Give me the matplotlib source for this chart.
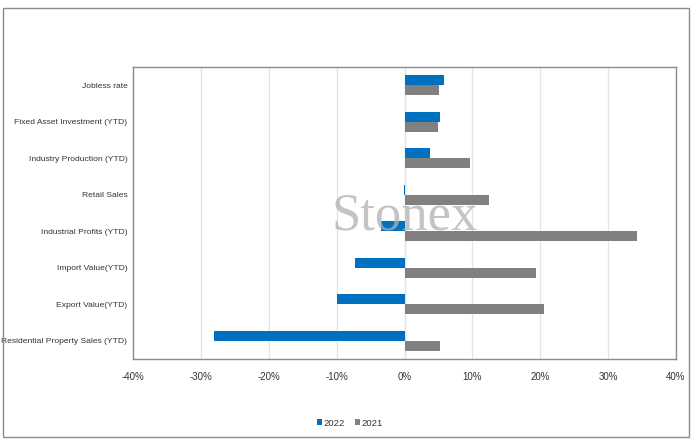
import matplotlib
matplotlib.use("Agg")
import matplotlib.pyplot as plt
from matplotlib.patches import Rectangle
import numpy as np

categories = ["Jobless rate", "Fixed Asset Investment (YTD)", "Industry Production (YTD)",
              "Retail Sales", "Industrial Profits (YTD)", "Import Value(YTD)",
              "Export Value(YTD)", "Residential Property Sales (YTD)"]
v2022 = [5.8, 5.3, 3.8, -0.1, -3.5, -7.3, -10.0, -28.1]
v2021 = [5.1, 4.9, 9.6, 12.5, 34.3, 19.4, 20.6, 5.3]
xticks = [-40, -30, -20, -10, 0, 10, 20, 30, 40]
xticklabels = ["-40%", "-30%", "-20%", "-10%", "0%", "10%", "20%", "30%", "40%"]

plt.rcParams['font.family'] = ['Liberation Sans', 'DejaVu Sans']

fig = plt.figure(figsize=(7, 4.45), dpi=100)
ax = fig.add_axes([133/700, 1-359/445, (676-133)/700, (359-67)/445])

y = np.arange(len(categories))
h = 0.28
ax.barh(y - h/2, v2022, height=h, color="#0070C0", label="2022", zorder=3)
ax.barh(y + h/2, v2021, height=h, color="#808080", label="2021", zorder=3)

ax.set_xlim(-40, 40)
ax.set_ylim(len(categories) - 0.5, -0.5)
ax.set_xticks(xticks)
ax.set_xticklabels(xticklabels, fontsize=7, color="#333333")
ax.set_yticks(y)
ax.set_yticklabels(categories, fontsize=6.1, color="#333333")
ax.tick_params(axis='y', length=0, pad=4)
ax.tick_params(axis='x', length=0, pad=9)
ax.grid(axis='x', color="#dde6ee", lw=0.9, zorder=0)
ax.axvline(0, color="#c8d0d8", lw=0.9, zorder=1)
for s in ax.spines.values():
    s.set_color("#8c8c8c")
    s.set_linewidth(1.0)

ax.text(0, 3.6, "Stonex", fontsize=38, family=['Liberation Serif', 'DejaVu Serif'],
        color="#b0b0b0", alpha=0.75, ha='center', va='center', zorder=4)

leg = fig.legend(loc='center', bbox_to_anchor=(350/700, 1-423/445), ncol=2, frameon=False,
                 fontsize=6.8, handlelength=0.5, handleheight=0.5, handletextpad=0.2,
                 columnspacing=1.0)
for t in leg.get_texts():
    t.set_color("#333333")

fig.patches.append(Rectangle((3/700, 1-437/445), (689-3)/700, (437-8)/445,
                             transform=fig.transFigure, fill=False,
                             edgecolor="#8c8c8c", lw=1.0))

fig.savefig("out.png", dpi=100)
